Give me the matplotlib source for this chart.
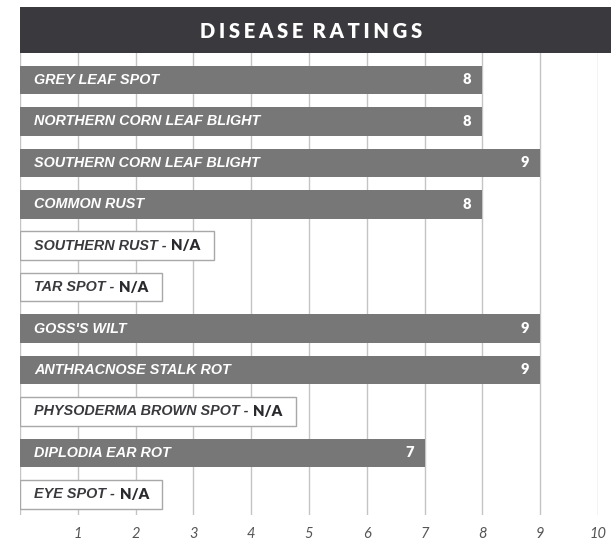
import matplotlib
matplotlib.use("Agg")
import matplotlib.pyplot as plt
from matplotlib.patches import Rectangle

categories = ["GREY LEAF SPOT", "NORTHERN CORN LEAF BLIGHT", "SOUTHERN CORN LEAF BLIGHT",
              "COMMON RUST", "SOUTHERN RUST", "TAR SPOT", "GOSS'S WILT",
              "ANTHRACNOSE STALK ROT", "PHYSODERMA BROWN SPOT", "DIPLODIA EAR ROT", "EYE SPOT"]
ratings = [8, 8, 9, 8, None, None, 9, 9, None, 7, None]
tick_values = [1, 2, 3, 4, 5, 6, 7, 8, 9, 10]
title = "DISEASE RATINGS"

plt.rcParams['font.family'] = ['DejaVu Sans']

W, H = 613, 550
fig = plt.figure(figsize=(W / 100, H / 100), dpi=100)
ax = fig.add_axes([20 / W, (H - 515) / H, 578 / W, (515 - 53) / H])

# header band
fig.patches.append(Rectangle((20 / W, (H - 53) / H), 591 / W, 46 / H,
                             transform=fig.transFigure, facecolor="#3a393d",
                             edgecolor="none", zorder=0))
gap = "\u2009\u200a"
spaced_title = "  ".join(gap.join(word) for word in title.split(" "))
fig.text(311 / W, (H - 31) / H, spaced_title,
         color="white", fontsize=14.5, fontweight="heavy", ha="center", va="center",
         family=["Lato", "DejaVu Sans"])

n = len(categories)
ax.set_xlim(0, 10)
ax.set_ylim(n - 0.5, -0.65)
for v in [0] + tick_values:
    ax.axvline(v, color="#c4c4c4", lw=1.0, zorder=0)

bar_h = 0.69
label_kw = dict(fontsize=10.4, fontstyle="italic", fontweight="bold", va="center",
                family=["Liberation Sans", "DejaVu Sans"])

fig.canvas.draw()
renderer = fig.canvas.get_renderer()
pad_px = 14

for i, (cat, r) in enumerate(zip(categories, ratings)):
    if r is not None:
        ax.barh(i, r, height=bar_h, color="#777777", zorder=2)
        ax.annotate(cat, xy=(0, i), xytext=(pad_px, 0), textcoords="offset pixels",
                    color="white", zorder=3, **label_kw)
        ax.annotate(str(r), xy=(r, i), xytext=(-11, 0), textcoords="offset pixels",
                    color="white", fontsize=10.5, fontweight="heavy",
                    ha="right", va="center", zorder=3, family=["Lato", "DejaVu Sans"])
    else:
        t1 = ax.annotate(cat + " - ", xy=(0, i), xytext=(pad_px, 0), textcoords="offset pixels",
                         color="#3a393d", zorder=4, **label_kw)
        t2 = ax.annotate("N/A", xy=(1, 0.5), xycoords=t1, xytext=(1, 0),
                         textcoords="offset pixels", color="#2a292d", fontsize=10.8,
                         fontweight="heavy", ha="left", va="center", zorder=4,
                         family=["Lato", "DejaVu Sans"])
        fig.canvas.draw()
        bb = t2.get_window_extent(renderer)
        right_data = ax.transData.inverted().transform((bb.x1 + 13, 0))[0]
        ax.add_patch(Rectangle((0, i - bar_h / 2), right_data, bar_h,
                               facecolor="white", edgecolor="#a8a8a8", lw=1.0, zorder=3))

ax.set_xticks(tick_values)
ax.set_xticklabels([str(v) for v in tick_values], fontstyle="italic", color="#555555",
                   fontsize=10.5, family=["Lato", "DejaVu Sans"])
ax.tick_params(axis="x", length=0, pad=9)
ax.set_yticks([])
for s in ax.spines.values():
    s.set_visible(False)

fig.savefig("out.png", dpi=100)
